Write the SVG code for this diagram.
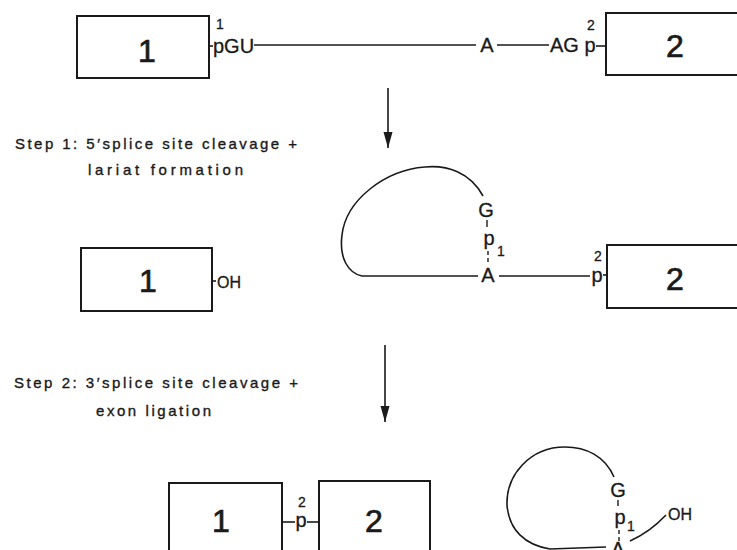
<svg xmlns="http://www.w3.org/2000/svg" width="737" height="550" viewBox="0 0 737 550">
<defs>
<style>
.box{fill:none;stroke:#1a1a1a;stroke-width:2}
.big{font-family:"Liberation Sans",Arial,sans-serif;font-size:32px;fill:#1a1a1a;stroke:#1a1a1a;stroke-width:0.7;text-anchor:middle}
.seq{font-family:"Liberation Sans",Arial,sans-serif;font-size:20px;fill:#1a1a1a;stroke:#1a1a1a;stroke-width:0.3}
.mid{text-anchor:middle}
.sm{font-size:14px}
.oh{font-size:16px}
.step{font-family:"Liberation Sans",Arial,sans-serif;font-size:15px;fill:#1a1a1a;stroke:#1a1a1a;stroke-width:0.35}
.ln{fill:none;stroke:#1a1a1a;stroke-width:1.6}
.dash{fill:none;stroke:#1a1a1a;stroke-width:1.4}
</style>
<marker id="ah" markerUnits="userSpaceOnUse" markerWidth="17" markerHeight="10" refX="16" refY="5" orient="auto">
<path d="M0,0.5 L16,5 L0,9.5 Z" fill="#1a1a1a"/>
</marker>
</defs>
<rect width="737" height="550" fill="#fff"/>

<g id="labels">
<text class="step" x="15" y="149" textLength="282" lengthAdjust="spacing">Step 1: 5′splice site cleavage +</text>
<text class="step" x="88" y="175" textLength="155" lengthAdjust="spacing">lariat formation</text>
<text class="step" x="14" y="388" textLength="284" lengthAdjust="spacing">Step 2: 3′splice site cleavage +</text>
<text class="step" x="96" y="416" textLength="115" lengthAdjust="spacing">exon ligation</text>
</g>

<g id="connectors">
<line class="ln" x1="388" y1="88" x2="388" y2="148" marker-end="url(#ah)"/>
<line class="ln" x1="385" y1="345" x2="385" y2="422" marker-end="url(#ah)"/>
<!-- top intron -->
<line class="ln" x1="209" y1="46" x2="213" y2="46"/>
<line class="ln" x1="254" y1="45" x2="476" y2="45"/>
<line class="ln" x1="497" y1="45" x2="549" y2="45"/>
<line class="ln" x1="596" y1="46" x2="606" y2="46"/>
<!-- middle -->
<line class="ln" x1="212" y1="281" x2="216" y2="281"/>
<path class="ln" d="M483 196 C 470 172, 447 165, 425 167 C 385 170, 346 200, 342 235 C 339 258, 348 273, 362 276 L 478 276"/>
<line class="ln" x1="499" y1="276" x2="590" y2="276"/>
<line class="ln" x1="603" y1="275" x2="607" y2="275"/>
<line class="dash" x1="487" y1="220" x2="487" y2="227"/>
<line class="dash" x1="488" y1="251" x2="488" y2="255"/>
<line class="dash" x1="488" y1="258" x2="488" y2="262"/>
<!-- bottom -->
<line class="ln" x1="282" y1="522" x2="295" y2="522"/>
<line class="ln" x1="307" y1="522" x2="319" y2="522"/>
<path class="ln" d="M614 477 C 605 456, 586 447, 565 447 C 530 447, 506 475, 507 505 C 509 530, 525 545, 550 549 L 606 547"/>
<path class="ln" d="M630 541 Q 650 532 666 515"/>
<line class="dash" x1="618" y1="500" x2="618" y2="506"/>
<line class="dash" x1="619" y1="530" x2="619" y2="534"/>
<line class="dash" x1="619" y1="537" x2="619" y2="541"/>
</g>

<g id="exon1-top">
<rect class="box" x="77" y="16" width="132" height="62"/>
<text class="big" x="147" y="62">1</text>
</g>
<g id="intron-top-labels">
<text class="seq sm mid" x="220" y="29">1</text>
<text class="seq" x="213" y="53">pGU</text>
<text class="seq mid" x="487" y="52">A</text>
<text class="seq" x="550" y="52">AG</text>
<text class="seq mid" x="590" y="52">p</text>
<text class="seq sm mid" x="591" y="30">2</text>
</g>
<g id="exon2-top">
<rect class="box" x="606" y="13" width="135" height="62"/>
<text class="big" x="675" y="57">2</text>
</g>

<g id="exon1-mid">
<rect class="box" x="81" y="248" width="131" height="63"/>
<text class="big" x="148" y="292">1</text>
<text class="seq oh" x="217" y="288">OH</text>
</g>
<g id="lariat-mid">
<text class="seq mid" x="486" y="217">G</text>
<text class="seq mid" x="489" y="245">p</text>
<text class="seq sm mid" x="501" y="256">1</text>
<text class="seq mid" x="488" y="282">A</text>
<text class="seq mid" x="597" y="282">p</text>
<text class="seq sm mid" x="598" y="261">2</text>
</g>
<g id="exon2-mid">
<rect class="box" x="607" y="245" width="135" height="63"/>
<text class="big" x="675" y="290">2</text>
</g>

<g id="exon1-bot">
<rect class="box" x="169" y="483" width="113" height="80"/>
<text class="big" x="221" y="532">1</text>
<text class="seq mid" x="301" y="527">p</text>
<text class="seq sm mid" x="302" y="507">2</text>
</g>
<g id="exon2-bot">
<rect class="box" x="319" y="481" width="111" height="80"/>
<text class="big" x="374" y="532">2</text>
</g>
<g id="lariat-bot">
<text class="seq mid" x="618" y="497">G</text>
<text class="seq mid" x="620" y="524">p</text>
<text class="seq sm mid" x="631" y="531">1</text>
<text class="seq mid" x="618" y="556">A</text>
<text class="seq oh" x="668" y="520">OH</text>
</g>
</svg>
